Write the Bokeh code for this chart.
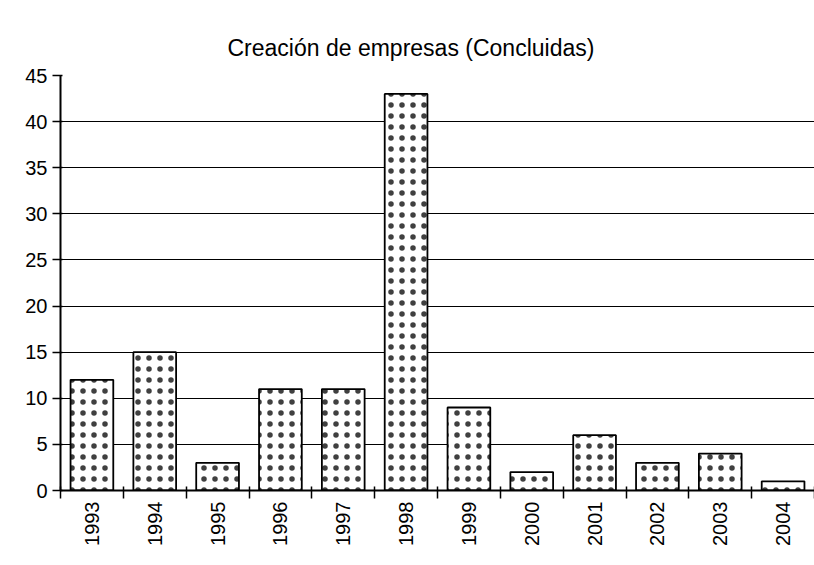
import math
from bokeh.plotting import figure
from bokeh.models import FixedTicker, Range1d
from bokeh.embed import file_html
from bokeh.resources import INLINE

years = ["1993", "1994", "1995", "1996", "1997", "1998", "1999", "2000", "2001", "2002", "2003", "2004"]
values = [12, 15, 3, 11, 11, 43, 9, 2, 6, 3, 4, 1]
y_ticks = [0, 5, 10, 15, 20, 25, 30, 35, 40, 45]

n = len(years)
centers = [i + 0.5 for i in range(n)]

p = figure(width=814, height=565, output_backend="svg", toolbar_location=None,
           x_range=Range1d(0, n), y_range=Range1d(0, 45),
           min_border_left=60, min_border_right=0, min_border_top=75, min_border_bottom=75)
p.outline_line_color = None
p.background_fill_color = "white"

p.title.text = "Creación de empresas (Concluidas)"
p.title.align = "left"
p.title.offset = 167
p.title.text_font = "Liberation Sans"
p.title.text_font_style = "normal"
p.title.text_font_size = "23px"
p.title.text_color = "black"
p.title.standoff = 30

p.vbar(x=centers, top=values, width=0.68, bottom=0, fill_color="white",
       line_color="black", line_width=1.8, hatch_pattern=".", hatch_color="black",
       hatch_scale=11, hatch_weight=0.4, hatch_alpha=0.75)

# x axis
p.xaxis.ticker = FixedTicker(ticks=centers, minor_ticks=list(range(n + 1)))
p.xaxis.major_label_overrides = {c: y for c, y in zip(centers, years)}
p.xaxis.major_tick_line_color = None
p.xaxis.minor_tick_line_color = "black"
p.xaxis.minor_tick_line_width = 1.5
p.xaxis.minor_tick_in = 4
p.xaxis.minor_tick_out = 8
p.xaxis.axis_line_width = 2
p.xaxis.major_label_orientation = math.pi / 2
p.xaxis.major_label_text_font = "Liberation Sans"
p.xaxis.major_label_text_font_size = "20px"
p.xaxis.major_label_text_color = "black"
p.xaxis.major_label_standoff = 3

# y axis
p.yaxis.ticker = FixedTicker(ticks=y_ticks)
p.yaxis.minor_tick_line_color = None
p.yaxis.major_tick_line_color = "black"
p.yaxis.major_tick_line_width = 1.5
p.yaxis.major_tick_in = 2
p.yaxis.major_tick_out = 8
p.yaxis.axis_line_width = 2
p.yaxis.major_label_text_font = "Liberation Sans"
p.yaxis.major_label_text_font_size = "20px"
p.yaxis.major_label_text_color = "black"
p.yaxis.major_label_standoff = 5

p.xgrid.grid_line_color = None
p.ygrid.ticker = FixedTicker(ticks=y_ticks)
p.ygrid.grid_line_color = "black"
p.ygrid.grid_line_width = 1.2
p.ygrid.level = "underlay"

open("out.html", "w").write(file_html(p, INLINE))
